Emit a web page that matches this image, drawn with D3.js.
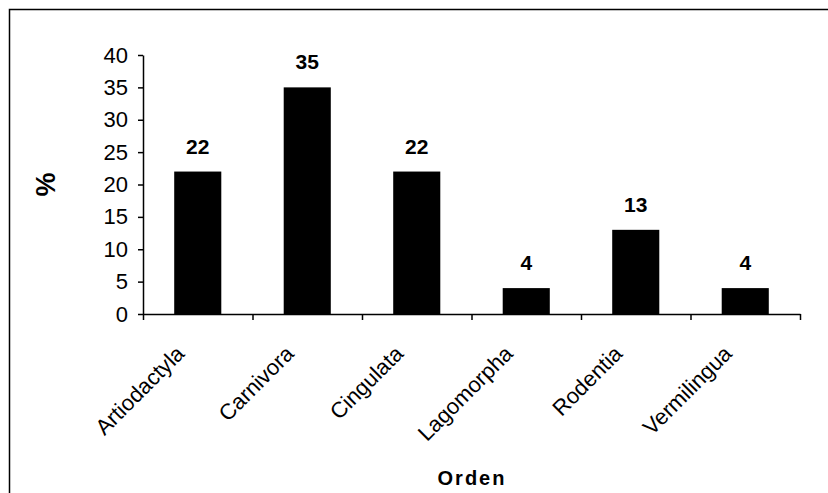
<!DOCTYPE html>
<html>
<head>
<meta charset="utf-8">
<script src="https://cdn.jsdelivr.net/npm/d3@7"></script>
<style>
  html, body { margin: 0; padding: 0; background: #fff; }
  svg { display: block; font-family: "Liberation Sans", Arial, sans-serif; }
</style>
</head>
<body>
<svg id="chart" width="828" height="493"></svg>
<script>
// Orders of mammals and their share (%) of recorded species
const categories = ["Artiodactyla", "Carnivora", "Cingulata", "Lagomorpha", "Rodentia", "Vermilingua"];
const values = [22, 35, 22, 4, 13, 4];
const yTicks = [0, 5, 10, 15, 20, 25, 30, 35, 40];
const xTitle = "Orden";
const yTitle = "%";

const svg = d3.select("#chart");
const W = 828, H = 493;
const plot = { left: 143, right: 800, top: 55, bottom: 314 };

// Outer frame (left and top edges)
svg.append("path")
  .attr("d", `M9.5,${H} L9.5,9.5 L${W},9.5`)
  .attr("fill", "none")
  .attr("stroke", "#000")
  .attr("stroke-width", 1.5);

const x = d3.scaleBand()
  .domain(categories)
  .range([plot.left, plot.right])
  .paddingInner(0.57)
  .paddingOuter(0.285);

const y = d3.scaleLinear()
  .domain([0, 40])
  .range([plot.bottom, plot.top]);

const rows = categories.map((c, i) => ({ c, v: values[i] }));

// Bars
svg.append("g")
  .selectAll("rect")
  .data(rows)
  .join("rect")
  .attr("x", d => x(d.c))
  .attr("y", d => y(d.v))
  .attr("width", x.bandwidth())
  .attr("height", d => y(0) - y(d.v))
  .attr("fill", "#000");

// Value labels above bars
svg.append("g")
  .selectAll("text")
  .data(rows)
  .join("text")
  .attr("x", d => x(d.c) + x.bandwidth() / 2)
  .attr("y", d => y(d.v) - 18)
  .attr("text-anchor", "middle")
  .attr("font-size", 21)
  .attr("font-weight", "bold")
  .text(d => d3.format("d")(d.v));

// Y axis
const yAxis = svg.append("g")
  .attr("transform", `translate(${plot.left},0)`)
  .call(d3.axisLeft(y).tickValues(yTicks).tickSize(5).tickSizeOuter(0).tickPadding(10));
yAxis.selectAll("text")
  .attr("font-size", 22)
  .attr("font-family", "Liberation Sans, Arial, sans-serif")
  .attr("fill", "#000");
yAxis.selectAll("line, path").attr("stroke", "#000").attr("stroke-width", 1.5);

// X axis with ticks on category boundaries
const xb = d3.scaleLinear().domain([0, categories.length]).range([plot.left, plot.right]);
const xAxis = svg.append("g")
  .attr("transform", `translate(0,${plot.bottom})`)
  .call(d3.axisBottom(xb).tickValues(d3.range(0, categories.length + 1)).tickFormat("").tickSize(6).tickSizeOuter(0));
xAxis.selectAll("line, path").attr("stroke", "#000").attr("stroke-width", 1.5);

// Rotated category labels
svg.append("g")
  .selectAll("text")
  .data(categories)
  .join("text")
  .attr("transform", d => `translate(${x(d) + x.bandwidth() / 2 - 12},${plot.bottom + 41}) rotate(-45)`)
  .attr("text-anchor", "end")
  .attr("font-size", 22)
  .text(d => d);

// Axis titles
svg.append("text")
  .attr("transform", `translate(55,${(plot.top + plot.bottom) / 2}) rotate(-90)`)
  .attr("text-anchor", "middle")
  .attr("font-size", 27)
  .attr("font-weight", "bold")
  .text(yTitle);

svg.append("text")
  .attr("x", 472)
  .attr("y", 485)
  .attr("text-anchor", "middle")
  .attr("font-size", 20)
  .attr("font-weight", "bold")
  .attr("letter-spacing", 2)
  .text(xTitle);
</script>
</body>
</html>
